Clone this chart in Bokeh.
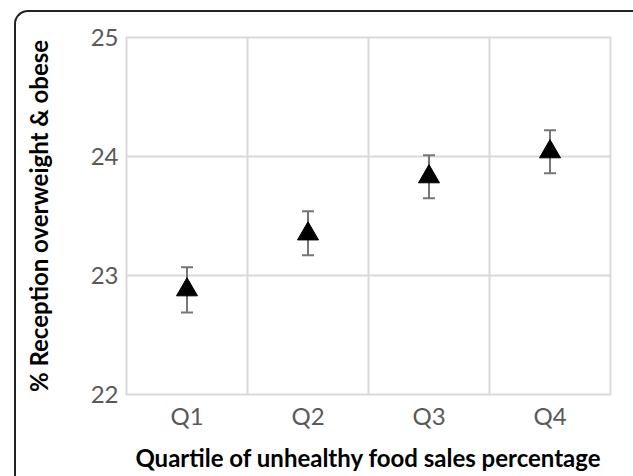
from bokeh.plotting import figure
from bokeh.models import (ColumnDataSource, Whisker, TeeHead, FixedTicker, Span,
                          InlineStyleSheet)
from bokeh.embed import file_html
from bokeh.resources import INLINE

quartiles = ["Q1", "Q2", "Q3", "Q4"]
values = [22.88, 23.35, 23.83, 24.04]
lower = [22.69, 23.17, 23.65, 23.86]
upper = [23.07, 23.54, 24.01, 24.22]
y_ticks = [22, 23, 24, 25]

src = ColumnDataSource(data=dict(q=quartiles, v=values, lo=lower, hi=upper))

p = figure(x_range=quartiles, y_range=(22, 25), width=633, height=476,
           output_backend="svg", toolbar_location=None,
           min_border_left=126, min_border_right=23, min_border_top=37, min_border_bottom=82)

# panel frame: left and top edges with a rounded corner
p.stylesheets = [InlineStyleSheet(css=""":host { position: relative; }
:host::before { content: ""; position: absolute; left: 14px; top: 10px;
 width: calc(100% - 16px); height: calc(100% - 12px);
 border-left: 2px solid #222222; border-top: 2px solid #222222;
 border-top-left-radius: 14px; pointer-events: none; z-index: 10; }""")]

grid_col = "#d9d9d9"
p.outline_line_color = grid_col
p.outline_line_width = 2
p.xgrid.visible = False
p.ygrid.grid_line_color = grid_col
p.ygrid.grid_line_width = 2
p.ygrid.ticker = FixedTicker(ticks=y_ticks)

# vertical grid lines between categories
for i in range(1, len(quartiles)):
    p.add_layout(Span(location=i, dimension="height", line_color=grid_col, line_width=2))

font = "Lato"
for ax in (p.xaxis[0], p.yaxis[0]):
    ax.axis_line_color = None
    ax.major_tick_line_color = None
    ax.minor_tick_line_color = None
    ax.major_label_text_font = font
    ax.major_label_text_font_size = "24px"
    ax.major_label_text_color = "#595959"
    ax.axis_label_text_font = font
    ax.axis_label_text_font_size = "24px"
    ax.axis_label_text_font_style = "bold"
    ax.axis_label_text_color = "#000000"

p.yaxis.ticker = FixedTicker(ticks=y_ticks)
p.yaxis.major_label_standoff = 2
p.xaxis.major_label_standoff = 0
p.xaxis.axis_label = "Quartile of unhealthy food sales percentage"
p.yaxis.axis_label = "% Reception overweight & obese"
p.xaxis.axis_label_standoff = 10
p.yaxis.axis_label_standoff = 35

w = Whisker(source=src, base="q", lower="lo", upper="hi",
            line_color="#767676", line_width=2)
w.upper_head = TeeHead(size=12, line_color="#767676", line_width=2)
w.lower_head = TeeHead(size=12, line_color="#767676", line_width=2)
p.add_layout(w)

p.scatter(x="q", y="v", source=src, marker="triangle", size=21,
          fill_color="black", line_color="black")

open("out.html", "w").write(file_html(p, INLINE))
